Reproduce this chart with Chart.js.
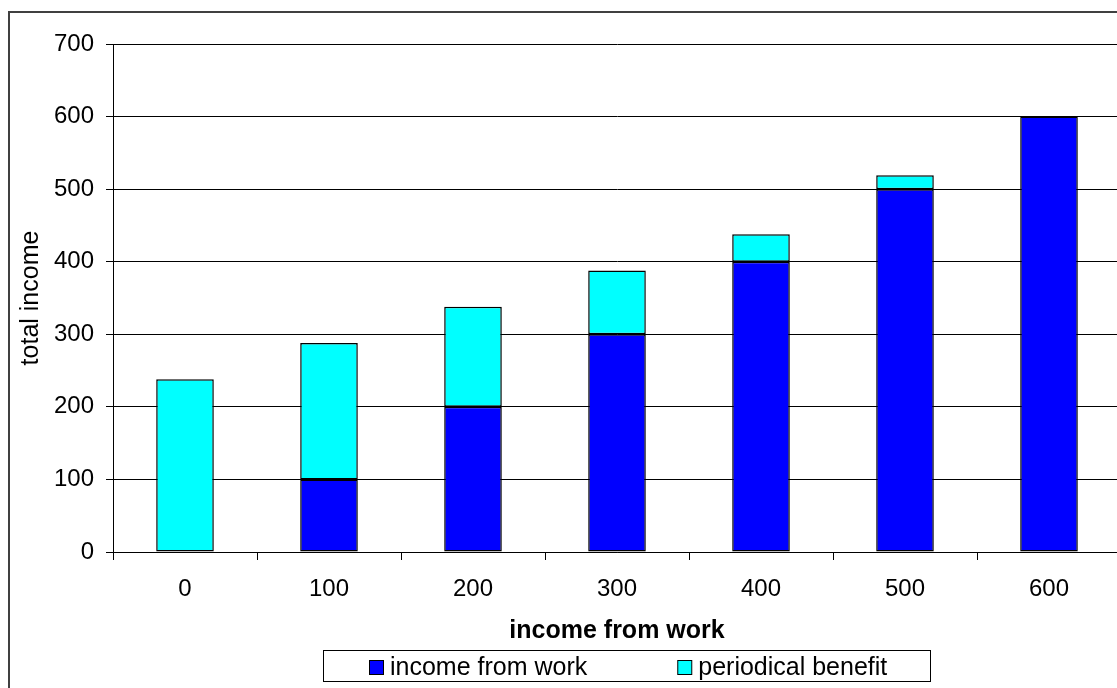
<!DOCTYPE html>
<html><head><meta charset="utf-8">
<script src="https://cdn.jsdelivr.net/npm/chart.js@4"></script>
<style>
html,body{margin:0;padding:0;background:#fff;overflow:hidden;width:1117px;height:688px;}
#wrap{position:absolute;left:0;top:0;width:1140px;height:688px;}
</style></head><body>
<div id="wrap"><canvas id="c" width="1140" height="688"></canvas></div>
<script>
const categories = ['0','100','200','300','400','500','600'];
const incomeFromWork = [0,100,200,300,400,500,600];
const periodicalBenefit = [238,188,138,88,38,19,0];
const seriesNames = ['income from work','periodical benefit'];
const seriesColors = ['#0000FF','#00FFFF'];
const xTitle = 'income from work';
const yTitle = 'total income';
const yMin = 0, yMax = 700, yStep = 100;

const FONT = "'Liberation Sans', Arial, sans-serif";

const framePlugin = {
  id: 'frameLegend',
  beforeDraw(chart){
    const ctx = chart.ctx;
    ctx.save();
    ctx.strokeStyle = '#404040';
    ctx.lineWidth = 2;
    ctx.beginPath();
    ctx.moveTo(9, chart.height + 5);
    ctx.lineTo(9, 12);
    ctx.lineTo(chart.width + 5, 12);
    ctx.stroke();
    ctx.restore();
  },
  afterDraw(chart){
    const ctx = chart.ctx;
    ctx.save();
    const bx = 323.5, by = 650.5, bw = 607, bh = 31;
    ctx.strokeStyle = '#000';
    ctx.lineWidth = 1;
    ctx.strokeRect(bx, by, bw, bh);
    ctx.font = "25px " + FONT;
    ctx.textBaseline = 'middle';
    ctx.textAlign = 'left';
    let x = 369;
    const cy = 667;
    chart.data.datasets.forEach((ds) => {
      ctx.fillStyle = ds.backgroundColor;
      ctx.fillRect(x + 0.5, cy - 6.5, 14, 14);
      ctx.strokeStyle = '#000';
      ctx.strokeRect(x + 0.5, cy - 6.5, 14, 14);
      ctx.fillStyle = '#000';
      ctx.fillText(ds.label, x + 21, cy + 1);
      const w = ctx.measureText(ds.label).width;
      x += 21 + w + 90;
    });
    ctx.restore();
  }
};

new Chart(document.getElementById('c'), {
  type: 'bar',
  data: {
    labels: categories,
    datasets: [
      { label: seriesNames[0], data: incomeFromWork, backgroundColor: seriesColors[0],
        borderColor: '#000', borderWidth: 1.5, borderSkipped: false,
        barPercentage: 0.4, categoryPercentage: 1.0 },
      { label: seriesNames[1], data: periodicalBenefit, backgroundColor: seriesColors[1],
        borderColor: '#000', borderWidth: 1.5, borderSkipped: false,
        barPercentage: 0.4, categoryPercentage: 1.0 }
    ]
  },
  options: {
    responsive: false,
    animation: false,
    layout: { padding: { left: 0, top: 44, right: 19, bottom: 0 } },
    plugins: { legend: { display: false }, tooltip: { enabled: false } },
    scales: {
      x: {
        stacked: true,
        ticks: { color: '#000', font: { family: FONT, size: 24 }, padding: 15 },
        grid: { offset: true, drawOnChartArea: false, drawTicks: true, tickLength: 8, color: '#000' },
        border: { color: '#000', width: 1 },
        title: { display: true, text: xTitle, color: '#000',
                 font: { family: FONT, size: 25, weight: 'bold' }, padding: { top: 0, bottom: 42 } },
        afterFit(s){ s.height = 136; }
      },
      y: {
        stacked: true, min: yMin, max: yMax,
        ticks: { stepSize: yStep, color: '#000', font: { family: FONT, size: 24 }, padding: 12 },
        grid: { color: '#000', lineWidth: 1, tickLength: 7, drawTicks: true },
        border: { color: '#000', width: 1 },
        title: { display: true, text: yTitle, color: '#000',
                 font: { family: FONT, size: 25 }, padding: { top: 16, bottom: 0 } },
        afterFit(s){ s.width = 113; }
      }
    }
  },
  plugins: [framePlugin]
});
</script>
</body></html>
